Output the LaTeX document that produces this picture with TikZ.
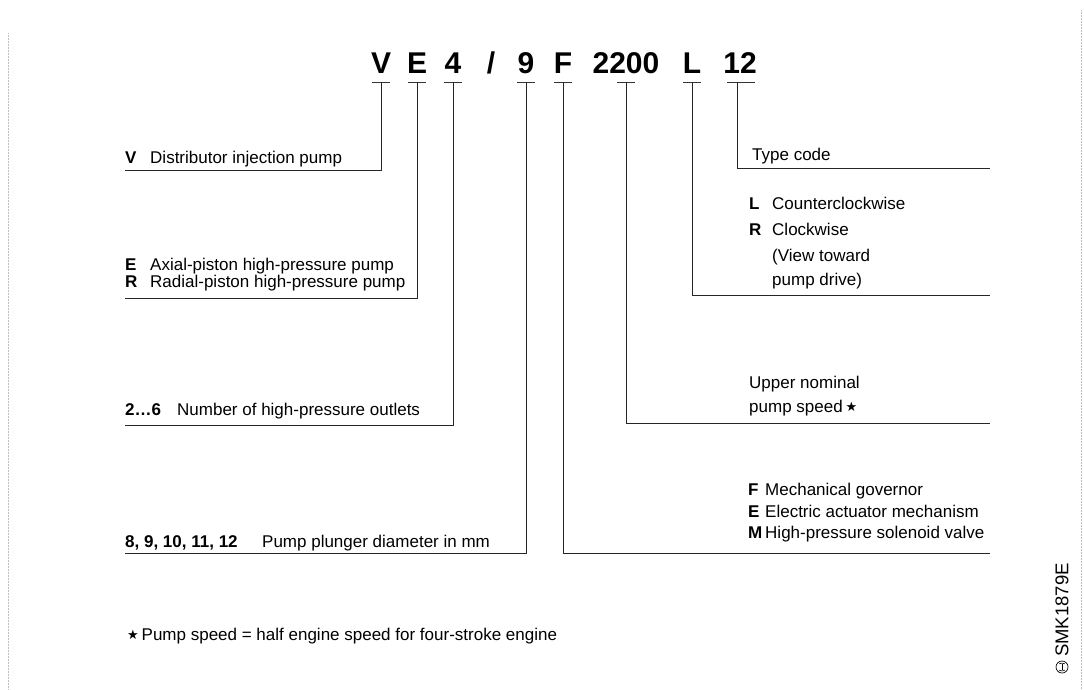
\documentclass[tikz,border=0pt]{standalone}
\usepackage{fontspec}
\setmainfont{Liberation Sans}
\newfontfamily\symfont{DejaVu Sans}
\usepackage{tikz}
\usetikzlibrary{positioning}

\newcommand{\tg}[2][25pt]{\makebox[#1][l]{\bfseries #2}}
\newcommand{\starsym}{\raisebox{0.6pt}{\symfont\fontsize{13}{14}\selectfont ★}}

\begin{document}
\begin{tikzpicture}[
    x=1pt, y=-1pt,
    font=\fontsize{17}{20}\selectfont,
    code/.style={anchor=base, inner sep=0pt, font=\fontsize{30}{33}\selectfont\bfseries},
    lbl/.style={anchor=base west, inner sep=0pt},
    lead/.style={draw=black!85, line width=0.9pt},
    bar/.style={draw=black!80, line width=1pt},
    frame/.style={draw=black!25, densely dotted, line width=0.5pt}
]
\useasboundingbox (0,0) rectangle (1084,689);

% Frame of the scan
\draw[frame] (8,33) -- (8,689);
\draw[frame] (1081,10) -- (1081,689);

% Type code
\node[code] (cV) at (381,73) {V};
\node[code] (cE) at (417,73) {E};
\node[code] (c4) at (453,73) {4};
\node[code] (cSl) at (491,73) {/};
\node[code] (c9) at (526,73) {9};
\node[code] (cF) at (563,73) {F};
\node[code] (cN) at (626,73) {2200};
\node[code] (cL) at (692,73) {L};
\node[code] (c12) at (740,73) {12};

% Ticks under the code
\coordinate (tV) at (381,82);
\coordinate (tE) at (417,82);
\coordinate (t4) at (453,82);
\coordinate (t9) at (526,82);
\coordinate (tF) at (563,82);
\coordinate (tN) at (626,82);
\coordinate (tL) at (692,82);
\coordinate (t12) at (737,82);
\foreach \t in {tV,tE,t4,t9,tF,tN,tL}
    \draw[bar] (\t) +(-9,0) -- +(9,0);
\draw[bar] (t12) +(-10,0) -- +(18,0);

% Labels, left
\node[lbl] (lV) at (125,163) {\tg{V}Distributor injection pump};
\node[lbl] (lE) at (125,270) {\tg{E}Axial-piston high-pressure pump};
\node[lbl] (lR) at (125,287) {\tg{R}Radial-piston high-pressure pump};
\node[lbl] (l4) at (125,415) {\tg[52pt]{2\ldots6}Number of high-pressure outlets};
\node[lbl] (l9) at (125,547) {\tg[137pt]{8,~9,~10,~11,~12}Pump plunger diameter in mm};

% Labels, right
\node[lbl] (l12) at (752,160) {Type code};
\node[lbl] (lL) at (749,209) {\tg[23pt]{L}Counterclockwise};
\node[lbl] (lR2) at (749,235) {\tg[23pt]{R}Clockwise};
\node[lbl] (lVw) at (772,261) {(View toward};
\node[lbl] (lPd) at (772,285) {pump drive)};
\node[lbl] (lUp) at (749,388) {Upper nominal};
\node[lbl] (lPs) at (749,412) {pump speed\,\starsym};
\node[lbl] (lF) at (748,495) {\tg[17pt]{F}Mechanical governor};
\node[lbl] (lE2) at (748,517) {\tg[17pt]{E}Electric actuator mechanism};
\node[lbl] (lM) at (748,538) {\tg[17pt]{M}High-pressure solenoid valve};

% Footnote and figure number
\node[lbl] (fn) at (127,640) {\starsym\,Pump speed = half engine speed for four-stroke engine};
\node[rotate=90, inner sep=0pt, font=\fontsize{18.5}{20}\selectfont] (smk) at (1062,610) {SMK1879E};
\node[circle, draw, line width=0.7pt, minimum size=12pt, inner sep=0pt] (logo) at (1062,667) {};
\draw[line width=0.6pt] (logo.center) ++(0,-3.2) -- ++(0,6.4);
\draw[line width=0.6pt] (logo.center) ++(-2.8,-3.2) .. controls +(1.6,-1) and +(-1.6,-1) .. ++(5.6,0);
\draw[line width=0.6pt] (logo.center) ++(-2.8,3.2) .. controls +(1.6,1) and +(-1.6,1) .. ++(5.6,0);

% Lead ends
\coordinate (eV) at (125,170);
\coordinate (eE) at (125,298);
\coordinate (e4) at (125,425);
\coordinate (e9) at (125,553);
\coordinate (e12) at (990,168);
\coordinate (eL) at (990,295);
\coordinate (eN) at (990,423);
\coordinate (eF) at (990,553);

% Leads
\draw[lead] (tV) |- (eV);
\draw[lead] (tE) |- (eE);
\draw[lead] (t4) |- (e4);
\draw[lead] (t9) |- (e9);
\draw[lead] (t12) |- (e12);
\draw[lead] (tL) |- (eL);
\draw[lead] (tN) |- (eN);
\draw[lead] (tF) |- (eF);
\end{tikzpicture}
\end{document}
